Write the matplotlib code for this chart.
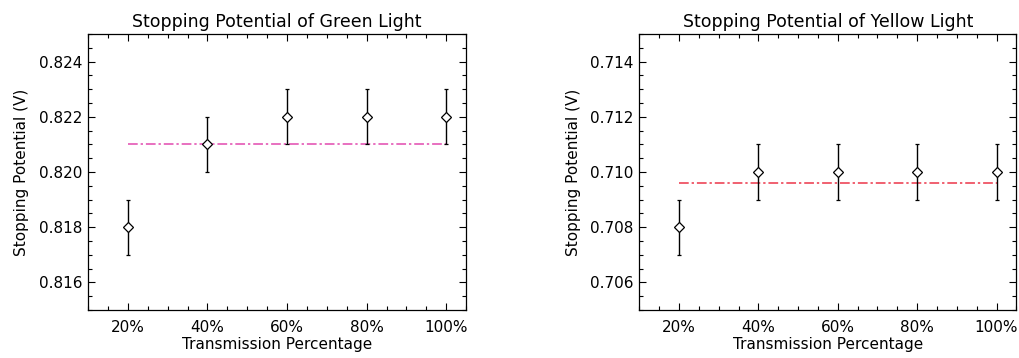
import matplotlib
matplotlib.use("Agg")
import matplotlib.pyplot as plt
from matplotlib.ticker import MultipleLocator, FuncFormatter

# transmission filters (%)
TRANSMISSION = [20, 40, 60, 80, 100]
TICK_LABELS = ["20%", "40%", "60%", "80%", "100%"]

# stopping potentials (V) and their uncertainty
GREEN_V = [0.818, 0.821, 0.822, 0.822, 0.822]
GREEN_ERR = [0.001, 0.001, 0.001, 0.001, 0.001]
GREEN_MEAN = 0.821

YELLOW_V = [0.708, 0.710, 0.710, 0.710, 0.710]
YELLOW_ERR = [0.001, 0.001, 0.001, 0.001, 0.001]
YELLOW_MEAN = 0.7096

plt.rcParams["font.family"] = "DejaVu Sans"

fig = plt.figure(figsize=(10.19, 3.58), dpi=100)


def panel(rect, values, errs, mean, line_color, ylim, title):
    ax = fig.add_axes(rect)
    ax.errorbar(TRANSMISSION, values, yerr=errs, fmt="D", ms=5.5, mfc="white",
                mec="black", mew=0.9, ecolor="black", elinewidth=1.0,
                capsize=1.2, capthick=1.0, zorder=3)
    ax.plot([TRANSMISSION[0], TRANSMISSION[-1]], [mean, mean], color=line_color,
            lw=1.4, dashes=(5, 1.5, 1.2, 1.5), zorder=2)
    ax.set_xlim(10, 105)
    ax.set_ylim(*ylim)
    ax.set_xticks(TRANSMISSION)
    ax.set_xticklabels(TICK_LABELS)
    ax.xaxis.set_minor_locator(MultipleLocator(5))
    ax.yaxis.set_major_locator(MultipleLocator(0.002))
    ax.yaxis.set_minor_locator(MultipleLocator(0.0005))
    ax.yaxis.set_major_formatter(FuncFormatter(lambda v, p: f"{v:.3f}"))
    ax.tick_params(which="both", direction="in", top=True, right=True,
                   width=0.8, colors="black")
    ax.tick_params(which="major", length=5)
    ax.tick_params(which="minor", length=2.8)
    ax.tick_params(axis="x", which="major", pad=7.5, labelsize=11)
    ax.tick_params(axis="y", which="major", pad=4, labelsize=11)
    for s in ax.spines.values():
        s.set_linewidth(0.9)
    ax.set_title(title, fontsize=12.5, pad=5)
    ax.set_xlabel("Transmission Percentage", fontsize=11, labelpad=1)
    ax.set_ylabel("Stopping Potential (V)", fontsize=11, labelpad=7)
    return ax


panel([0.0864, 0.134, 0.371, 0.771], GREEN_V, GREEN_ERR, GREEN_MEAN,
      "#e870c0", (0.815, 0.825), "Stopping Potential of Green Light")
panel([0.6274, 0.134, 0.370, 0.771], YELLOW_V, YELLOW_ERR, YELLOW_MEAN,
      "#f06070", (0.705, 0.715), "Stopping Potential of Yellow Light")

fig.savefig("out.png", dpi=100)
